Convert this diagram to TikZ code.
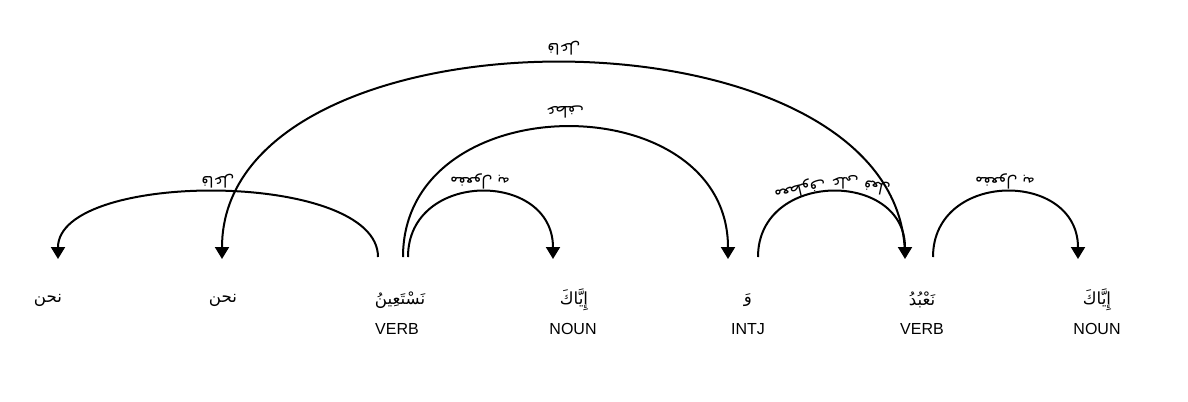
\documentclass[tikz,border=0pt]{standalone}
\usepackage{fontspec}
\setmainfont{Liberation Sans}
\newfontfamily\arabicfont[Script=Arabic]{DejaVu Sans}
\TeXXeTstate=1
\usetikzlibrary{arrows.meta}
\begin{document}
\begin{tikzpicture}[x=0.75pt,y=-0.75pt,
  word/.style={font=\arabicfont\fontsize{12.5}{14}\selectfont, inner sep=0pt, anchor=center},
  tag/.style={font=\fontsize{12}{14}\selectfont, inner sep=0pt},
  arc/.style={line width=1.5pt, -{Triangle[width=10.5pt,length=9pt]}},
  lbl/.style={font=\arabicfont\fontsize{11.5}{13}\selectfont, inner sep=0pt, rotate=180}]
\useasboundingbox (0,0) rectangle (1188,401);
% words
\node[word] (w0) at (48,300) {\beginR نحن\endR};
\node[word] (w1) at (223,300) {\beginR نحن\endR};
\node[word] (w2) at (400,300) {\beginR نَسْتَعِينُ\endR};
\node[word] (w3) at (574,300) {\beginR إِيَّاكَ\endR};
\node[word] (w4) at (748,300) {\beginR وَ\endR};
\node[word] (w5) at (922,300) {\beginR نَعْبُدُ\endR};
\node[word] (w6) at (1097,300) {\beginR إِيَّاكَ\endR};
% tags
\node[tag] (t2) at (397,329) {VERB};
\node[tag] (t3) at (573,329) {NOUN};
\node[tag] (t4) at (748,329) {INTJ};
\node[tag] (t5) at (922,329) {VERB};
\node[tag] (t6) at (1097,329) {NOUN};
% arc end points
\coordinate (a1s) at (378,257);  \coordinate (a1e) at (58,259);
\coordinate (a2s) at (905,257);  \coordinate (a2e) at (222,259);
\coordinate (a3s) at (408,257);  \coordinate (a3e) at (553,259);
\coordinate (a4s) at (403,257);  \coordinate (a4e) at (728,259);
\coordinate (a5s) at (758,257);  \coordinate (a5e) at (905,259);
\coordinate (a6s) at (933,257);  \coordinate (a6e) at (1078,259);
% arcs
\draw[arc] (a1s) .. controls (378,170) and (58,170) .. (a1e);
\draw[arc] (a2s) .. controls (905,-2) and (222,-2) .. (a2e);
\draw[arc] (a3s) .. controls (408,170) and (553,170) .. (a3e);
\draw[arc] (a4s) .. controls (403,84) and (728,84) .. (a4e);
\draw[arc] (a5s) .. controls (758,170) and (905,170) .. (a5e);
\draw[arc] (a6s) .. controls (933,170) and (1078,170) .. (a6e);
% labels
\node[lbl] (l1) at (218,181) {\beginR فاعل\endR};
\node[lbl] (l2) at (564,48) {\beginR فاعل\endR};
\node[lbl] (l3) at (480,181) {\beginR مفعول به\endR};
\node[lbl] (l4) at (565,112) {\beginR عطف\endR};
\node[lbl, rotate=13] (l5a) at (800,189) {\beginR معطوف\endR};
\node[lbl] (l5b) at (845,182) {\beginR على\endR};
\node[lbl, rotate=-12] (l5c) at (877,187) {\beginR فعل\endR};
\node[lbl] (l6) at (1005,181) {\beginR مفعول به\endR};
\end{tikzpicture}
\end{document}
